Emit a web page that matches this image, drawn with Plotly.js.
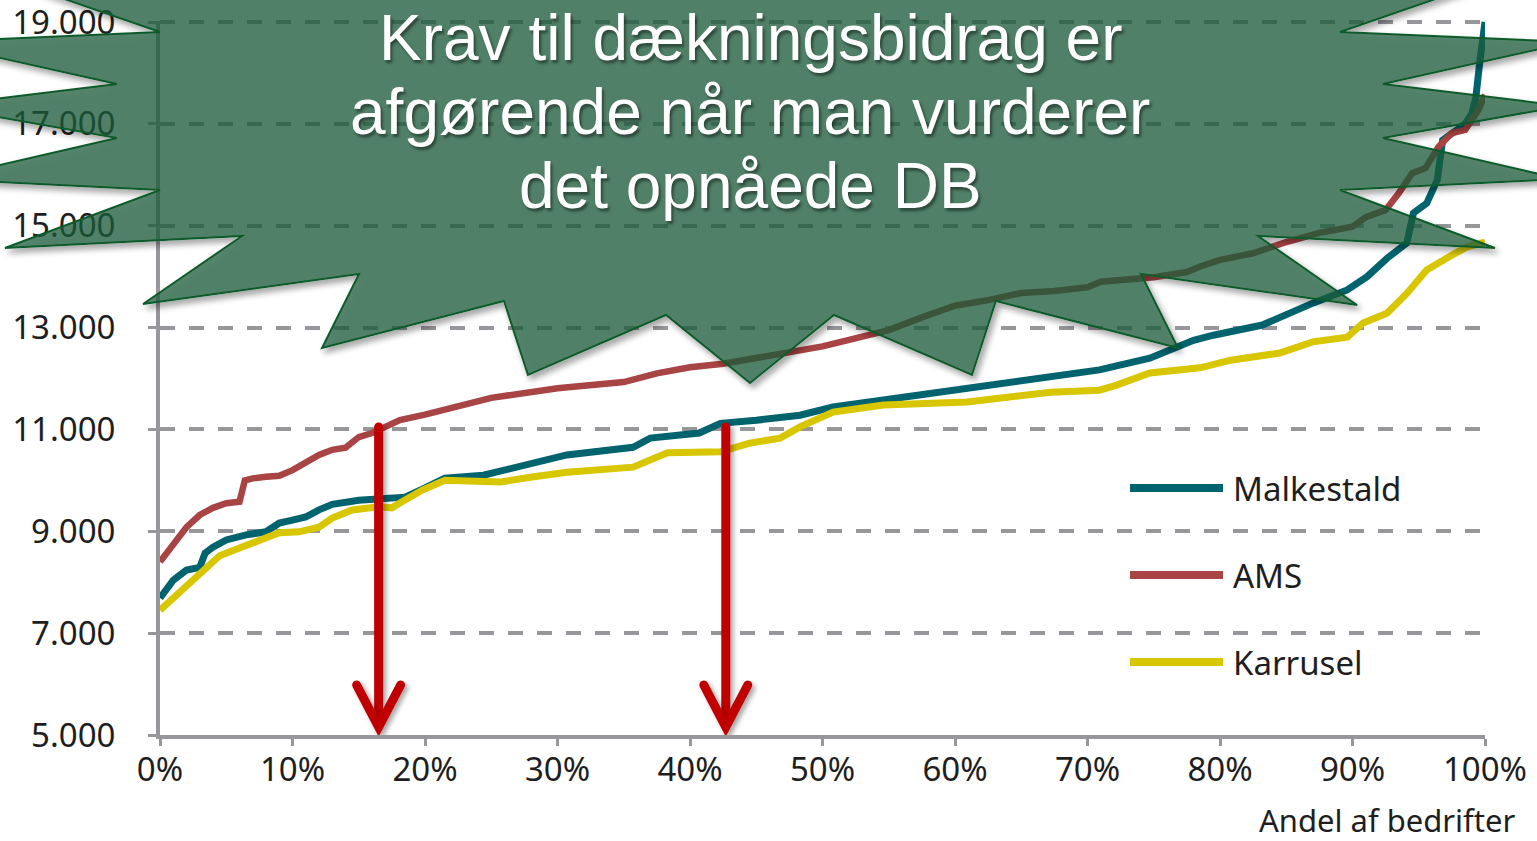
<!DOCTYPE html>
<html><head><meta charset="utf-8">
<script src="https://cdn.plot.ly/plotly-3.0.1.min.js"></script>
<style>html,body{margin:0;padding:0;background:#fff;} #chart{width:1537px;height:841px;}</style>
</head><body><div id="chart"></div>
<script>
// ---- data (x = andel af bedrifter, %) ----
const seriesNames = ['Malkestald', 'AMS', 'Karrusel'];
const malkX = [0, 0.4, 1, 2, 3, 3.4, 4, 5, 6.5, 8, 9, 10, 11, 12, 13, 15, 17, 18.5, 20, 21.5, 24.4, 27, 30.7, 35.7, 37, 40.7, 42.3, 45, 48.3, 50.8, 55.8, 60.9, 65.9, 70.9, 74.7, 76.7, 78, 79.5, 83.2, 87, 89.6, 91.1, 92.6, 94.1, 94.6, 95.6, 96.4, 96.8, 97.5, 98.5, 99, 99.3, 99.6, 99.8, 100];
const malkY = [7690, 7850, 8040, 8240, 8290, 8570, 8690, 8830, 8930, 8990, 9160, 9220, 9280, 9420, 9530, 9610, 9650, 9670, 9850, 10045, 10100, 10260, 10500, 10650, 10830, 10930, 11120, 11180, 11280, 11440, 11620, 11810, 12010, 12170, 12400, 12600, 12750, 12850, 13050, 13480, 13740, 14000, 14360, 14660, 15250, 15440, 15900, 16680, 16820, 17000, 17200, 17500, 18200, 18700, 19000];
const amsX = [0, 1, 2, 3, 4, 5, 6, 6.4, 7, 8, 9, 10, 11, 12, 13, 14, 15, 16, 17, 18.1, 20, 21.9, 25, 30, 35, 37.5, 40, 42.5, 45, 47.5, 50, 52, 55, 57.5, 60, 62.5, 65, 67.5, 70, 71, 72.5, 75, 77.5, 78.5, 80, 82.5, 85, 87.5, 90, 91, 92.5, 93.5, 94.5, 95.5, 96.5, 97.5, 98.5, 99.5, 100];
const amsY = [8400, 8730, 9080, 9320, 9460, 9550, 9580, 10000, 10040, 10070, 10090, 10200, 10340, 10500, 10600, 10640, 10850, 10930, 11050, 11185, 11290, 11420, 11620, 11810, 11930, 12100, 12220, 12290, 12400, 12520, 12630, 12760, 12950, 13200, 13430, 13540, 13680, 13720, 13790, 13900, 13940, 13990, 14090, 14200, 14330, 14460, 14680, 14860, 14980, 15170, 15310, 15640, 16030, 16130, 16550, 16820, 16880, 17270, 17570];
const karX = [0, 1, 2, 3, 4.5, 6, 7, 9, 10.5, 12, 13, 14.5, 16.5, 17.5, 18.1, 19.8, 21.5, 25.7, 28.2, 30.7, 35.7, 37, 38.3, 42.3, 44.5, 46.8, 48.3, 50.8, 54.6, 60.9, 64.7, 67.2, 70.9, 72.2, 74.7, 78.5, 80.8, 84.5, 87, 89.6, 90.8, 92.6, 94.1, 95.6, 97.1, 98.6, 100];
const karY = [7450, 7690, 7900, 8140, 8520, 8670, 8770, 8970, 8990, 9080, 9260, 9420, 9480, 9460, 9555, 9810, 10000, 9970, 10070, 10160, 10260, 10400, 10540, 10560, 10730, 10830, 11050, 11340, 11480, 11540, 11670, 11730, 11770, 11870, 12110, 12210, 12360, 12500, 12720, 12810, 13090, 13280, 13670, 14130, 14360, 14580, 14680];
const yTicks = [5000, 7000, 9000, 11000, 13000, 15000, 17000, 19000];
const xTicks = [0, 10, 20, 30, 40, 50, 60, 70, 80, 90, 100];
const arrowX = [16.5, 42.7];
const arrowFrom = 11050, arrowTo = 5157;
const calloutLines = ['Krav til dækningsbidrag er', 'afgørende når man vurderer', 'det opnåede DB'];
const xTitle = 'Andel af bedrifter';

// ---- styling ----
const colors = ['#00636e', '#a84443', '#d8c700'];
const L = 160, R = 1485, T = 21, B = 735;
const yMin = 5000, yMax = 19020;
const px = x => (x - L) / (R - L);
const py = y => (B - y) / (B - T);
const font = 'Noto Sans, DejaVu Sans, sans-serif';
const txt = '#1e1e1e';
const gray = '#96969b';

const traces = [
  {x: malkX, y: malkY, name: seriesNames[0], line: {color: colors[0], width: 7}},
  {x: amsX, y: amsY, name: seriesNames[1], line: {color: colors[1], width: 6.5}},
  {x: karX, y: karY, name: seriesNames[2], line: {color: colors[2], width: 7}}
].map(t => Object.assign({type: 'scatter', mode: 'lines', hoverinfo: 'skip'}, t));

// starburst outline (pixel space of the page)
const burst = [[-60,-44],[160,32],[-71,42],[117,84],[-64,106],[117,138],[-61,179],[160,190],[5,248],[242,236],[143,304],[359,274],[322,348],[504,301],[528,375],[666,315],[750,383],[834,315],[972,375],[996,301],[1178,348],[1141,274],[1357,305],[1258,236],[1495,248],[1340,190],[1561,179],[1383,138],[1564,106],[1383,84],[1571,42],[1340,32],[1560,-44],[1200,-130],[750,-130],[300,-130]];
const burstPath = 'M' + burst.map(p => px(p[0]).toFixed(4) + ',' + py(p[1]).toFixed(4)).join('L') + 'Z';

const shapes = [{
  type: 'path', xref: 'paper', yref: 'paper', path: burstPath,
  fillcolor: 'rgba(28,92,57,0.74)', line: {color: '#0d5a2a', width: 2}, layer: 'above'
}];
const armDx = 1.66, armDy = 825;
arrowX.forEach(ax => {
  shapes.push({type: 'line', xref: 'x', yref: 'y', x0: ax, x1: ax, y0: arrowFrom, y1: arrowTo + 250,
    line: {color: '#c00000', width: 9}, layer: 'above'});
  shapes.push({type: 'path', xref: 'x', yref: 'y',
    path: `M${ax - armDx},${arrowTo + armDy}L${ax},${arrowTo}L${ax + armDx},${arrowTo + armDy}`,
    line: {color: '#c00000', width: 9}, layer: 'above'});
});
// manual legend
const legY = [488, 575, 662];
seriesNames.forEach((n, i) => {
  shapes.push({type: 'line', xref: 'paper', yref: 'paper', x0: px(1130), x1: px(1223), y0: py(legY[i]), y1: py(legY[i]),
    line: {color: colors[i], width: 8}, layer: 'above'});
});

const annotations = [];
const lineCenters = [38, 112, 186];
calloutLines.forEach((t, i) => annotations.push({
  text: t, xref: 'paper', yref: 'paper', x: px(750), y: py(lineCenters[i]), xanchor: 'center', yanchor: 'middle',
  showarrow: false, font: {family: 'Liberation Sans, Arial, sans-serif', size: 64, color: '#ffffff', shadow: '2px 3px 3px rgba(0,0,0,0.45)'}
}));
seriesNames.forEach((n, i) => annotations.push({
  text: n, xref: 'paper', yref: 'paper', x: px(1231), y: py(legY[i]), xanchor: 'left', yanchor: 'middle',
  showarrow: false, font: {family: font, size: 33, color: txt}
}));
annotations.push({text: xTitle, xref: 'paper', yref: 'paper', x: px(1517), y: py(820), xanchor: 'right', yanchor: 'middle',
  showarrow: false, font: {family: font, size: 31, color: txt}});

const layout = {
  width: 1537, height: 841,
  margin: {l: L, r: 1537 - R, t: T, b: 841 - B, pad: 0},
  paper_bgcolor: '#ffffff', plot_bgcolor: '#ffffff',
  showlegend: false,
  separators: ',.',
  font: {family: font, size: 33, color: txt},
  xaxis: {
    range: [0, 100], tickvals: xTicks, ticktext: xTicks.map(v => v + '%'),
    showgrid: false, zeroline: false, showline: true, linecolor: gray, linewidth: 4,
    ticks: 'outside', ticklen: 7, tickwidth: 3, tickcolor: gray, ticklabelstandoff: -5,
    ticklabeloverflow: 'allow',
    tickfont: {family: font, size: 33, color: txt}, fixedrange: true
  },
  yaxis: {
    range: [yMin, yMax], tickvals: yTicks, tickformat: ',d',
    showgrid: true, gridcolor: gray, gridwidth: 4, griddash: '15px,14px',
    zeroline: false, showline: true, linecolor: gray, linewidth: 4,
    ticks: 'outside', ticklen: 8, tickwidth: 3, tickcolor: gray, ticklabelstandoff: 26,
    ticklabeloverflow: 'allow',
    tickfont: {family: font, size: 33, color: txt}, fixedrange: true
  },
  shapes: shapes,
  annotations: annotations
};

Plotly.newPlot('chart', traces, layout, {staticPlot: true, displayModeBar: false}).then(gd => {
  const svg = gd.querySelector('svg.main-svg');
  const ns = 'http://www.w3.org/2000/svg';
  let defs = svg.querySelector('defs');
  if (!defs) { defs = document.createElementNS(ns, 'defs'); svg.insertBefore(defs, svg.firstChild); }
  defs.insertAdjacentHTML('beforeend',
    '<filter id="sbShadow" filterUnits="userSpaceOnUse" x="-300" y="-300" width="2200" height="1500">' +
    '<feGaussianBlur in="SourceAlpha" stdDeviation="3" result="b"/>' +
    '<feOffset in="b" dx="3" dy="4" result="o"/>' +
    '<feComposite in="o" in2="SourceAlpha" operator="out" result="s"/>' +
    '<feComponentTransfer in="s" result="s2"><feFuncA type="linear" slope="0.45"/></feComponentTransfer>' +
    '<feMerge><feMergeNode in="s2"/><feMergeNode in="SourceGraphic"/></feMerge></filter>' +
    '<filter id="arShadow" filterUnits="userSpaceOnUse" x="-300" y="-300" width="2200" height="1500">' +
    '<feGaussianBlur in="SourceAlpha" stdDeviation="2.5" result="b"/>' +
    '<feOffset in="b" dx="3" dy="3" result="o"/>' +
    '<feComponentTransfer in="o" result="s2"><feFuncA type="linear" slope="0.35"/></feComponentTransfer>' +
    '<feMerge><feMergeNode in="s2"/><feMergeNode in="SourceGraphic"/></feMerge></filter>');
  const paths = gd.querySelectorAll('.layer-above .shapelayer path');
  paths.forEach(p => {
    const idx = +p.getAttribute('data-index');
    if (idx === 0) p.setAttribute('filter', 'url(#sbShadow)');
    else if (idx >= 1 && idx <= 4) {
      p.setAttribute('filter', 'url(#arShadow)');
      p.style.strokeLinecap = 'round';
      p.style.strokeLinejoin = 'miter';
    }
  });
});
</script>
</body></html>
